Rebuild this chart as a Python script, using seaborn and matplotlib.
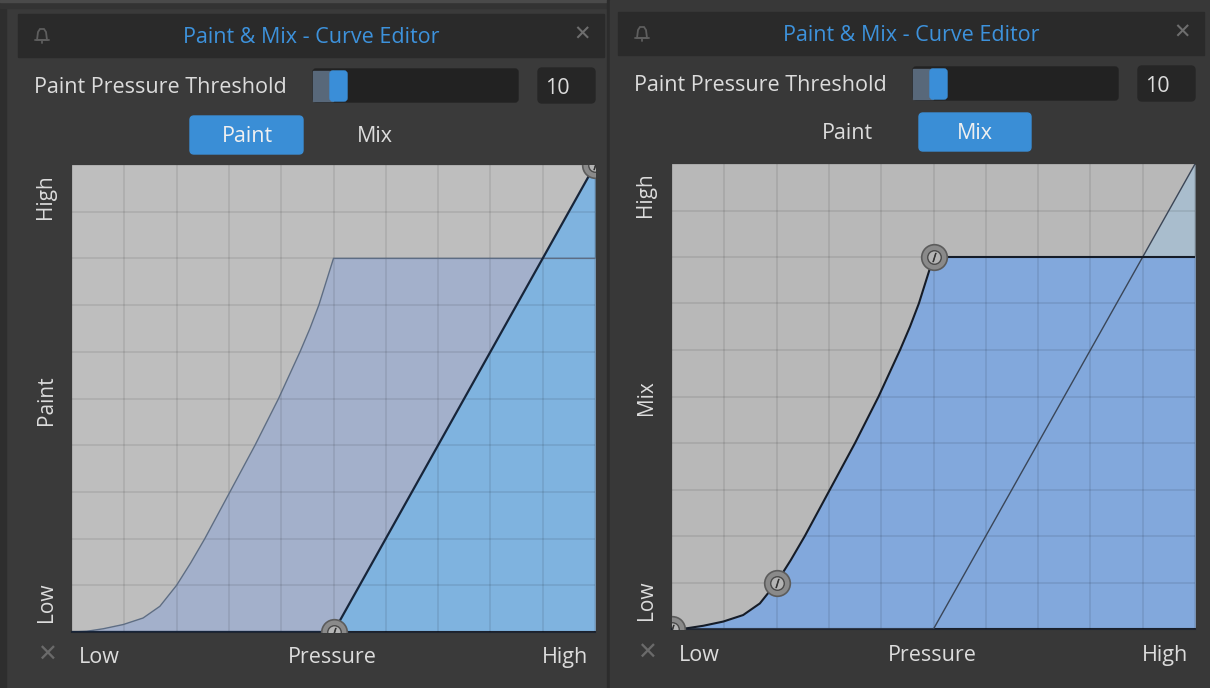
import numpy as np
import pandas as pd
import matplotlib
matplotlib.use("Agg")
import matplotlib.pyplot as plt
import seaborn as sns
from matplotlib.patches import Rectangle, FancyBboxPatch, Polygon

# ---------------- data ----------------
pressure_mix = [0, 0.028, 0.06, 0.098, 0.136, 0.168, 0.2, 0.227, 0.254, 0.278, 0.302,
                0.35, 0.395, 0.436, 0.455, 0.472, 0.5, 1.0]
mix_level = [0, 0.0015, 0.007, 0.016, 0.03, 0.055, 0.1, 0.148, 0.2, 0.25, 0.3,
             0.4, 0.5, 0.6, 0.65, 0.7, 0.8, 0.8]
pressure_paint = [0, 0.5, 1.0]
paint_level = [0, 0, 1.0]
mix_nodes_x = [0, 0.2, 0.5]
mix_nodes_y = [0, 0.1, 0.8]
paint_nodes_x = [0.5, 1.0]
paint_nodes_y = [0, 1.0]
tabs = ["Paint", "Mix"]
y_labels = ["High", "Paint", "Low"]
y_labels_mix = ["High", "Mix", "Low"]
x_labels = ["Low", "Pressure", "High"]
title = "Paint & Mix - Curve Editor"
threshold_label = "Paint Pressure Threshold"
threshold_value = 10

mix_df = pd.DataFrame({"pressure": pressure_mix, "level": mix_level})
paint_df = pd.DataFrame({"pressure": pressure_paint, "level": paint_level})

sns.set_style("white")
plt.rcParams["font.family"] = ["Open Sans", "DejaVu Sans"]

W, H = 1210, 688
fig = plt.figure(figsize=(W / 100, H / 100), dpi=100, facecolor="#3a3a3a")

bg = fig.add_axes([0, 0, 1, 1])
bg.set_xlim(0, W)
bg.set_ylim(H, 0)
bg.axis("off")
bg.set_facecolor("#3a3a3a")

TXT = "#dcdcdc"
BLUE_BTN = "#3a8ed6"
FS = 15.5
T = 2.5  # vertical text nudge (px)

# outer frame pieces
bg.add_patch(Rectangle((0, 0), 6, H, color="#2e2e2e"))
bg.add_patch(Rectangle((0, 0), W, 8, color="#333333"))
bg.add_patch(Rectangle((0, 0), W, 2, color="#4a4a4a"))
bg.add_patch(Rectangle((607, 0), 3, H, color="#2c2c2c"))
bg.add_patch(Rectangle((610, 0), 600, H, color="#383838"))


def panel(ox, dy, active):
    # title bar
    bg.add_patch(Rectangle((ox + 18, 14 + dy), 586, 43, color="#2a2a2a"))
    bg.text(ox + 311, 35 + dy + T, title, color="#3d92dc", fontsize=FS,
            ha="center", va="center")
    # bell icon
    bx, by = ox + 42, 35 + dy
    bell = Polygon([(bx - 5, by + 5), (bx - 4, by - 3), (bx - 2, by - 6), (bx + 2, by - 6),
                    (bx + 4, by - 3), (bx + 5, by + 5)], closed=True,
                   facecolor="none", edgecolor="#5e5e5e", lw=1.3)
    bg.add_patch(bell)
    bg.plot([bx - 7, bx + 7], [by + 5, by + 5], color="#5e5e5e", lw=1.3)
    bg.plot([bx, bx], [by + 5, by + 8], color="#5e5e5e", lw=1.3)
    bg.text(ox + 582, 35 + dy, "✕", color="#6e6e6e", fontsize=15,
            ha="center", va="center", fontweight="bold", family="DejaVu Sans")
    # threshold row
    bg.text(ox + 34, 85 + dy + T, threshold_label, color=TXT, fontsize=FS,
            ha="left", va="center")
    bg.add_patch(FancyBboxPatch((ox + 313, 69 + dy), 205, 33,
                                boxstyle="round,pad=0,rounding_size=3",
                                color="#222222"))
    bg.add_patch(Rectangle((ox + 313, 71 + dy), 20, 30, color="#58687a"))
    bg.add_patch(FancyBboxPatch((ox + 330, 71 + dy), 17, 30,
                                boxstyle="round,pad=0,rounding_size=3",
                                color="#3a8ed8"))
    bg.add_patch(FancyBboxPatch((ox + 538, 68 + dy), 57, 35,
                                boxstyle="round,pad=0,rounding_size=4",
                                color="#262626"))
    bg.text(ox + 545, 86 + dy + T, str(threshold_value), color=TXT, fontsize=FS,
            ha="left", va="center")
    # tabs
    if active == 0:
        bg.add_patch(FancyBboxPatch((ox + 190, 116 + dy), 113, 38,
                                    boxstyle="round,pad=0,rounding_size=4",
                                    color=BLUE_BTN))
        bg.text(ox + 247, 134 + dy + T, tabs[0], color="#f0f0f0", fontsize=FS,
                ha="center", va="center")
        bg.text(ox + 375, 134 + dy + T, tabs[1], color=TXT, fontsize=FS,
                ha="center", va="center")
    else:
        bg.add_patch(FancyBboxPatch((ox + 319, 115 + dy), 112, 38,
                                    boxstyle="round,pad=0,rounding_size=4",
                                    color=BLUE_BTN))
        bg.text(ox + 247, 133 + dy + T, tabs[0], color=TXT, fontsize=FS,
                ha="center", va="center")
        bg.text(ox + 375, 133 + dy + T, tabs[1], color="#f0f0f0", fontsize=FS,
                ha="center", va="center")
    # y labels (rotated)
    ylabs = y_labels if active == 0 else y_labels_mix
    for lab, yy in zip(ylabs, [197, 400, 602]):
        bg.text(ox + 46, yy + dy, lab, color=TXT, fontsize=FS - 0.5, rotation=90,
                ha="center", va="center")
    # bottom labels
    yb = 655 + dy
    bg.text(ox + 47, yb, "✕", color="#6a6a6a", fontsize=17, ha="center",
            va="center", family="DejaVu Sans")
    bg.text(ox + 79, yb + T, x_labels[0], color=TXT, fontsize=FS, ha="left", va="center")
    bg.text(ox + 332, yb + T, x_labels[1], color=TXT, fontsize=FS, ha="center", va="center")
    bg.text(ox + 588, yb + T, x_labels[2], color=TXT, fontsize=FS, ha="right", va="center")


def curve_axes(x0, y0, x1, y1):
    ax = fig.add_axes([x0 / W, 1 - y1 / H, (x1 - x0) / W, (y1 - y0) / H])
    ax.set_xlim(0, 1)
    ax.set_ylim(0, 1)
    ax.margins(0)
    ax.set_xticks(np.linspace(0, 1, 11))
    ax.set_yticks(np.linspace(0, 1, 11))
    ax.tick_params(length=0, labelbottom=False, labelleft=False)
    ax.grid(True, color="black", alpha=0.1, lw=1.1)
    ax.set_axisbelow(False)
    for s in ["top", "left", "right"]:
        ax.spines[s].set_visible(False)
    ax.spines["bottom"].set_color("#1e2430")
    ax.spines["bottom"].set_linewidth(1.5)
    return ax


def nodes(ax, xs, ys):
    ax.scatter(xs, ys, s=340, color="#8a8a8a", edgecolor="#5c5c5c",
               linewidth=1.2, zorder=6, clip_on=True)
    ax.scatter(xs, ys, s=95, color="#b4b4b4", edgecolor="#4a4a4a",
               linewidth=1.0, zorder=7, clip_on=True)
    ax.scatter(xs, ys, s=40, marker=r"$/$", color="#2e2e2e", linewidth=0.5,
               zorder=8, clip_on=True)


panel(0, 0, 0)
panel(600, -2, 1)

# ---- left: Paint curve active ----
axL = curve_axes(72, 165, 595, 632)
axL.set_facecolor("#bebebe")
axL.fill_between(mix_df["pressure"], mix_df["level"], 0, color="#a3b0cb", zorder=1, lw=0)
axL.fill_between(paint_df["pressure"], paint_df["level"], 0, color="#7fb3df", zorder=1.5, lw=0)
sns.lineplot(data=mix_df, x="pressure", y="level", ax=axL, color="#5d6d85",
             lw=1.0, zorder=4)
sns.lineplot(data=paint_df, x="pressure", y="level", ax=axL, color="#17253a",
             lw=1.6, zorder=5)
nodes(axL, paint_nodes_x, paint_nodes_y)
axL.set_xlabel("")
axL.set_ylabel("")

# ---- right: Mix curve active ----
axR = curve_axes(672, 164, 1195, 629)
axR.set_facecolor("#b8b8b8")
axR.fill_between(paint_df["pressure"], paint_df["level"], 0, color="#a9bdcd", zorder=1, lw=0)
axR.fill_between(mix_df["pressure"], mix_df["level"], 0, color="#82a8dc", zorder=1.5, lw=0)
sns.lineplot(data=paint_df, x="pressure", y="level", ax=axR, color="#3a4658",
             lw=1.0, zorder=4)
sns.lineplot(data=mix_df, x="pressure", y="level", ax=axR, color="#151c28",
             lw=1.5, zorder=5)
nodes(axR, mix_nodes_x, mix_nodes_y)
axR.set_xlabel("")
axR.set_ylabel("")

fig.savefig("out.png", dpi=100, facecolor=fig.get_facecolor())
